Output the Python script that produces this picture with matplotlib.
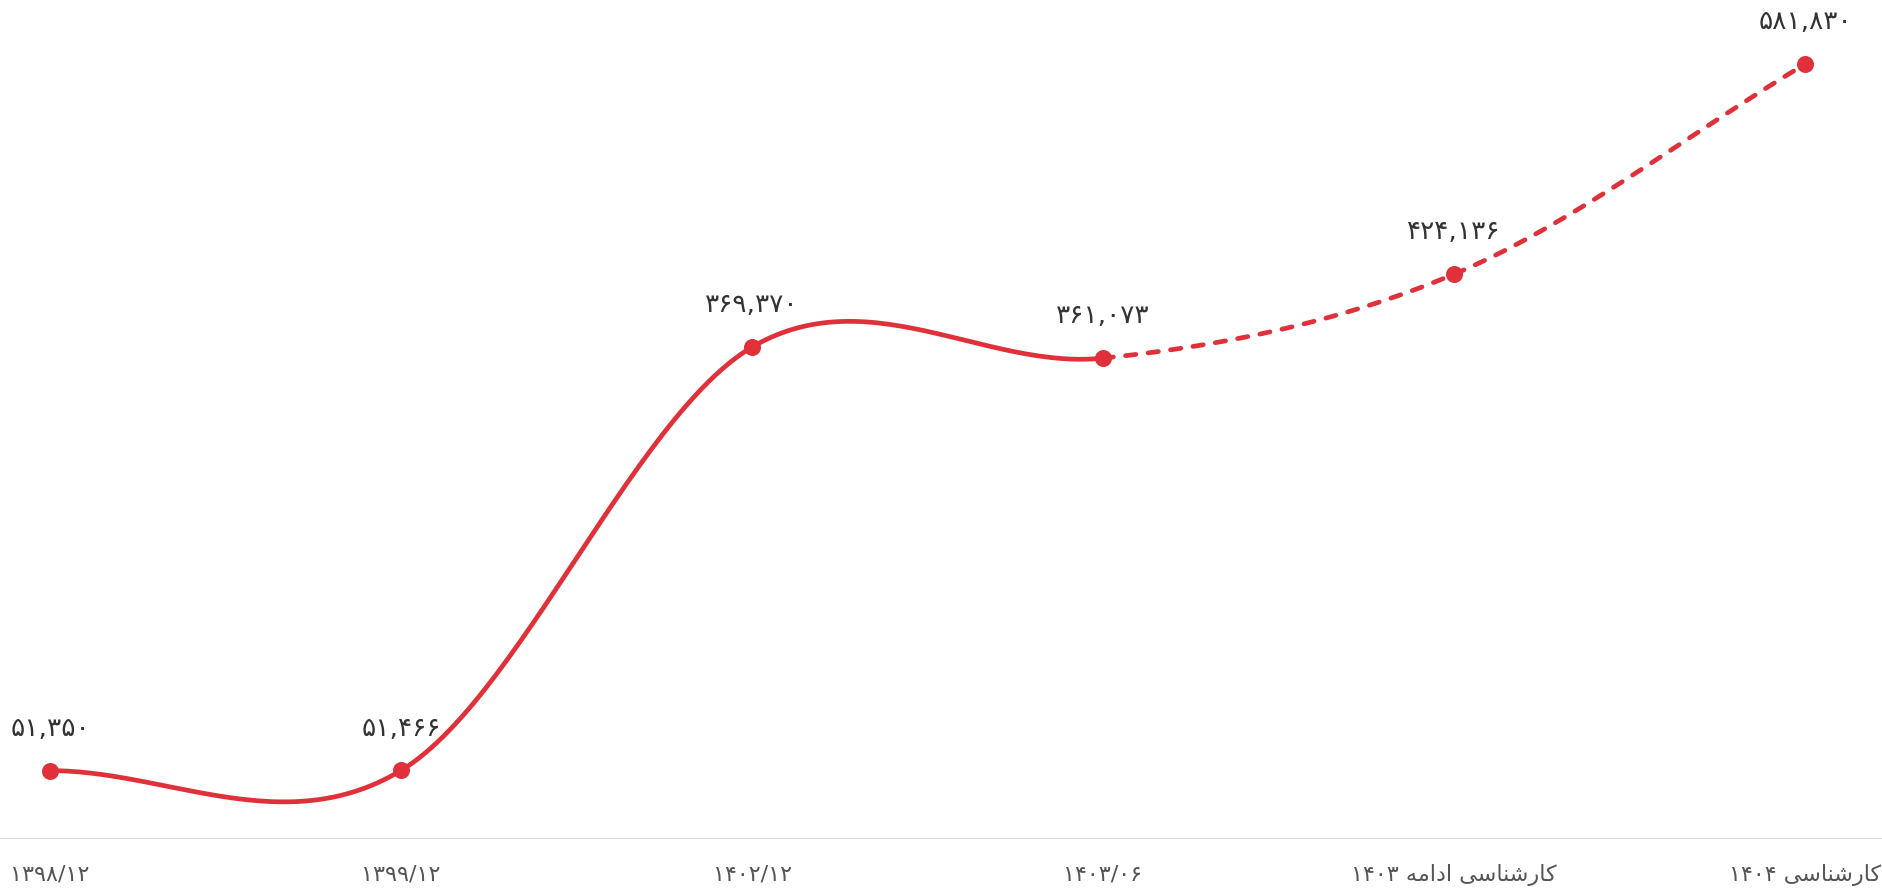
import numpy as np
import matplotlib
matplotlib.use('Agg')
import matplotlib.pyplot as plt

plt.rcParams['font.family'] = ['DejaVu Sans']

# داده ها
values = [51350, 51466, 369370, 361073, 424136, 581830]
value_labels = ['۵۱,۳۵۰', '۵۱,۴۶۶', '۳۶۹,۳۷۰', '۳۶۱,۰۷۳', '۴۲۴,۱۳۶', '۵۸۱,۸۳۰']
# matplotlib does no arabic shaping, so labels are written in visual order with presentation forms
kar = '\ufbfd\ufeb3\ufe8e\ufee8\ufeb7\ufead\ufe8e\ufb90'   # کارشناسی
edame = '\ufeea\ufee3\ufe8d\ufea9\ufe8d'                    # ادامه
tick_labels = ['۱۳۹۸/۱۲', '۱۳۹۹/۱۲', '۱۴۰۲/۱۲', '۱۴۰۳/۰۶',
               '۱۴۰۳ ' + edame + ' ' + kar, '۱۴۰۴ ' + kar]
n_actual = 4  # first 4 points solid, rest forecast (dashed)

red = '#E0313A'


def catmull(xs, ys, steps=60):
    xs = np.asarray(xs, float)
    ys = np.asarray(ys, float)
    n = len(ys)
    m = np.zeros(n)
    for i in range(n):
        if i == 0:
            m[i] = ys[1] - ys[0]
        elif i == n - 1:
            m[i] = ys[-1] - ys[-2]
        else:
            m[i] = (ys[i + 1] - ys[i - 1]) / 2
    px, py = [], []
    for i in range(n - 1):
        t = np.linspace(0, 1, steps)
        h00 = 2*t**3 - 3*t**2 + 1
        h10 = t**3 - 2*t**2 + t
        h01 = -2*t**3 + 3*t**2
        h11 = t**3 - t**2
        py.append(h00*ys[i] + h10*m[i] + h01*ys[i+1] + h11*m[i+1])
        px.append(xs[i] + t*(xs[i+1] - xs[i]))
    return px, py


x = np.arange(len(values))
seg_x, seg_y = catmull(x, values)

fig = plt.figure(figsize=(18.83, 8.90), dpi=100)
ax = fig.add_axes([0, 51/890, 1, 839/890])

solid_x = np.concatenate(seg_x[:n_actual - 1])
solid_y = np.concatenate(seg_y[:n_actual - 1])
dash_x = np.concatenate(seg_x[n_actual - 1:])
dash_y = np.concatenate(seg_y[n_actual - 1:])

ax.plot(solid_x, solid_y, color=red, lw=3.4, solid_capstyle='round', zorder=2)
ax.plot(dash_x, dash_y, color=red, lw=3.4, dashes=(2.2, 2.6),
        dash_capstyle='round', zorder=2)
ax.scatter(x, values, s=150, color=red, zorder=3, linewidths=0)

for xi, v, lab in zip(x, values, value_labels):
    ax.annotate(lab, (xi, v), xytext=(0, 30), textcoords='offset points',
                ha='center', va='center', fontsize=19, color='#333333')

ax.set_xlim(-0.1425, 5.222)
ax.set_ylim(0, 630000)
ax.axhline(0, color='#d9d9d9', lw=1.5, zorder=1)

for s in ax.spines.values():
    s.set_visible(False)
ax.set_yticks([])
ax.set_xticks(x)
ax.set_xticklabels(tick_labels, fontsize=16, color='#555555')
ax.tick_params(axis='x', length=0, pad=18)

fig.savefig('out.png', dpi=100, facecolor='white')
